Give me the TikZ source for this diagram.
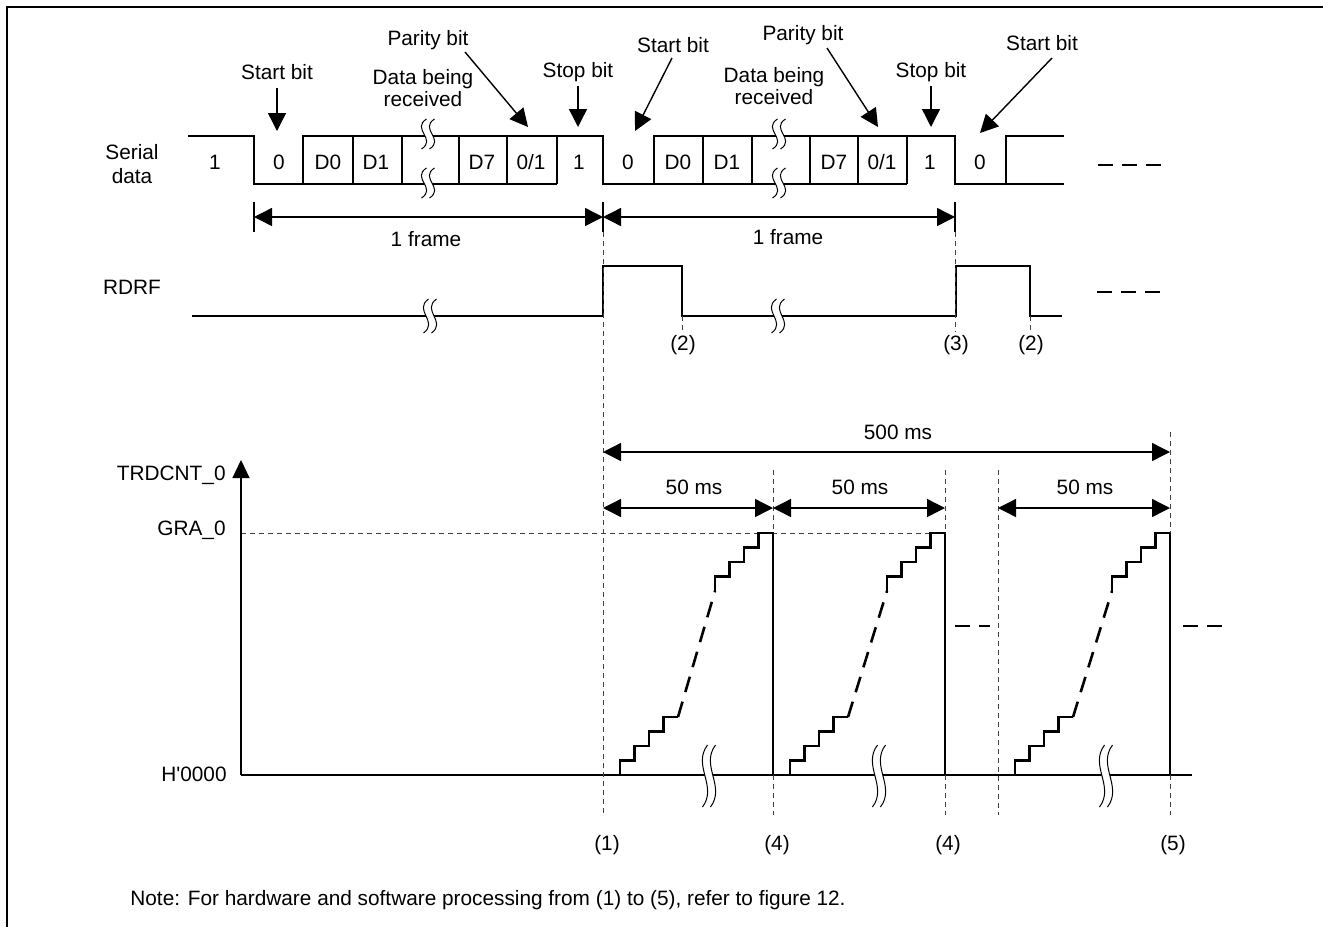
\documentclass[tikz,border=0pt]{standalone}
\usepackage{fontspec}
\setmainfont{Liberation Sans}
\usetikzlibrary{arrows.meta}

% Two parallel S-shaped strokes that interrupt a line (time-axis break)
\newcommand\wavebreak[3]{%
  \fill[white] ({#1-1.5},{#2-#3}) .. controls ({#1-17},{#2-#3/3}) and ({#1+9},{#2+#3/3}) .. ({#1-6.5},{#2+#3})
     -- ({#1+1.5},{#2+#3}) .. controls ({#1+17},{#2+#3/3}) and ({#1-9},{#2-#3/3}) .. ({#1+6.5},{#2-#3}) -- cycle;
  \draw[brk] ({#1-1.5},{#2-#3}) .. controls ({#1-17},{#2-#3/3}) and ({#1+9},{#2+#3/3}) .. ({#1-6.5},{#2+#3});
  \draw[brk] ({#1+6.5},{#2-#3}) .. controls ({#1-9},{#2-#3/3}) and ({#1+17},{#2+#3/3}) .. ({#1+1.5},{#2+#3});
}

% One counting ramp of TRDCNT_0: steps up from #1, clears at #2
\newcommand\countramp[2]{%
  \draw[sig] (#1,775) |- ({#1+14.5},760.5) |- ({#1+29},746) |- ({#1+43.5},731.5) |- ({#1+58},717);
  \draw[sig, dash pattern=on 8pt off 5pt] ({#1+58},717) -- ({#2-58},591);
  \draw[sig] ({#2-58},591) |- ({#2-43.5},576.5) |- ({#2-29},562) |- ({#2-14.5},547.5) |- (#2,533) -- (#2,775);
}

\begin{document}
\begin{tikzpicture}[x=0.5pt,y=-0.5pt,
  every node/.style={font=\fontsize{10.4}{12}\selectfont, inner sep=0pt},
  sig/.style={line width=1.3pt},
  brk/.style={line width=0.5pt},
  guide/.style={line width=0.5pt, black!75, dash pattern=on 2.5pt off 2pt},
  callout/.style={line width=0.7pt, -{Triangle[length=9pt,width=9pt]}},
  span/.style={line width=0.7pt, {Triangle[length=9pt,width=9pt]}-{Triangle[length=9pt,width=9pt]}},
  tick/.style={line width=0.7pt},
  contdash/.style={line width=1.3pt, dash pattern=on 7.5pt off 4.5pt},
]
\useasboundingbox (0,0) rectangle (1323,927);

% outer frame
\draw[line width=1pt] (7,927) -- (7,7) -- (1323,7);

% ---------------- Serial data ----------------
\node[align=center, font=\fontsize{10.4}{12}\selectfont] (serial) at (132,164) {Serial\\data};

\draw[sig] (188,136) -| (254,184) -- (557,184);
\draw[sig] (303,184) |- (603,136) -- (603,184) -- (907,184);
\draw[sig] (654,184) |- (955,136) -- (955,184) -- (1064,184);
\draw[sig] (1006,184) |- (1064,136);
\foreach \x in {353,402,459,507,557,703,752,810,858,907}
  \draw[sig] (\x,136) -- (\x,184);

\wavebreak{428}{134}{15}
\wavebreak{428}{183}{15}
\wavebreak{779}{134}{15}
\wavebreak{779}{183}{15}

\draw[contdash] (1098,165) -- (1161,165);

% bit values
\node (b1)  at (215,162) {1};
\node (b2)  at (279,162) {0};
\node (b3)  at (328,162) {D0};
\node (b4)  at (376,162) {D1};
\node (b5)  at (482,162) {D7};
\node (b6)  at (531,162) {0/1};
\node (b7)  at (579,162) {1};
\node (b8)  at (628,162) {0};
\node (b9)  at (678,162) {D0};
\node (b10) at (727,162) {D1};
\node (b11) at (834,162) {D7};
\node (b12) at (882,162) {0/1};
\node (b13) at (930,162) {1};
\node (b14) at (980,162) {0};

% callouts
\node (start1)  at (277,72) {Start bit};
\node (parity1) at (428,40) {Parity bit};
\node[align=center, font=\fontsize{10.4}{11}\selectfont] (data1) at (423,88) {Data being\\received};
\node (stop1)   at (578,72) {Stop bit};
\node (start2)  at (673,45) {Start bit};
\node (parity2) at (803,35) {Parity bit};
\node[align=center, font=\fontsize{10.4}{11}\selectfont] (data2) at (774,86) {Data being\\received};
\node (stop2)   at (931,72) {Stop bit};
\node (start3)  at (1042,43) {Start bit};

\coordinate (tStart1)  at (277,131);
\coordinate (tParity1) at (528,127);
\coordinate (tStop1)   at (578,127);
\coordinate (tStart2)  at (635,131);
\coordinate (tParity2) at (878,127);
\coordinate (tStop2)   at (931,127);
\coordinate (tStart3)  at (980,133);

\draw[callout] ([yshift=-8pt]start1.center) -- (tStart1);
\draw[callout] ([xshift=18.5pt,yshift=-6pt]parity1.center) -- (tParity1);
\draw[callout] ([yshift=-7pt]stop1.center) -- (tStop1);
\draw[callout] ([xshift=-0.5pt,yshift=-6.5pt]start2.center) -- (tStart2);
\draw[callout] ([xshift=12pt,yshift=-6.5pt]parity2.center) -- (tParity2);
\draw[callout] ([yshift=-7pt]stop2.center) -- (tStop2);
\draw[callout] ([xshift=5pt,yshift=-7.5pt]start3.center) -- (tStart3);

% frame spans
\coordinate (f0) at (254,217);
\coordinate (f1) at (603,217);
\coordinate (f2) at (955,217);
\draw[tick] (254,202) -- (254,232);
\draw[tick] (603,202) -- (603,232);
\draw[tick] (955,202) -- (955,232);
\draw[span] (f0) -- (f1);
\draw[span] (f1) -- (f2);
\node (frame1) at (426,239) {1 frame};
\node (frame2) at (788,237) {1 frame};

% ---------------- RDRF ----------------
\node (rdrf) at (132,287) {RDRF};
\draw[sig] (192,316) -- (603,316) |- (682,266) -- (682,316) -- (956,316) |- (1030,266) -- (1030,316) -- (1062,316);
\wavebreak{430}{316}{17}
\wavebreak{778}{316}{17}
\draw[contdash] (1097,292) -- (1161,292);

\draw[guide] (682,316) -- (682,332);
\draw[guide] (955,232) -- (955,332);
\draw[guide] (1030,316) -- (1030,332);
\node (e2a) at (683,345) {(2)};
\node (e3)  at (956,345) {(3)};
\node (e2b) at (1031,345) {(2)};

% ---------------- TRDCNT_0 ----------------
\node[anchor=east] (trdcnt) at (226,475) {TRDCNT\_0};
\node[anchor=east] (gra)    at (226,530) {GRA\_0};
\node[anchor=east] (hzero)  at (227,774) {H\textquotesingle 0000};

\draw[guide] (241,533) -- (945,533);
\draw[line width=0.6pt, -{Triangle[length=9pt,width=8.5pt]}] (241,775) -- (241,460);
\draw[line width=0.6pt] (241,775) -- (1192,775);

\countramp{620}{773}
\countramp{790}{945}
\countramp{1015}{1170}

\wavebreak{709}{776}{31}
\wavebreak{879}{776}{31}
\wavebreak{1106}{776}{31}

\draw[contdash] (955,626) -- (990,626);
\draw[contdash] (1183,626) -- (1222,626);

% time guides
\draw[guide] (603,232) -- (603,815);
\draw[guide] (773,470) -- (773,533);
\draw[guide] (773,775) -- (773,815);
\draw[guide] (945,470) -- (945,533);
\draw[guide] (945,775) -- (945,815);
\draw[guide] (998,470) -- (998,815);
\draw[guide] (1170,432) -- (1170,533);
\draw[guide] (1170,775) -- (1170,815);

% time spans
\coordinate (m0) at (603,452);
\coordinate (m1) at (1170,452);
\draw[span] (m0) -- (m1);
\node (t500) at (898,432) {500 ms};

\coordinate (a0) at (603,508);
\coordinate (a1) at (773,508);
\coordinate (a2) at (945,508);
\coordinate (a3) at (998,508);
\coordinate (a4) at (1170,508);
\draw[span] (a0) -- (a1);
\draw[span] (a1) -- (a2);
\draw[span] (a3) -- (a4);
\node (t50a) at (694,487) {50 ms};
\node (t50b) at (860,487) {50 ms};
\node (t50c) at (1085,487) {50 ms};

\node (e1)  at (607,845) {(1)};
\node (e4a) at (777,845) {(4)};
\node (e4b) at (948,845) {(4)};
\node (e5)  at (1173,845) {(5)};

% note
\node[anchor=west] (note) at (130,900) {Note: For hardware and software processing from (1) to (5), refer to figure 12.};

\end{tikzpicture}
\end{document}
